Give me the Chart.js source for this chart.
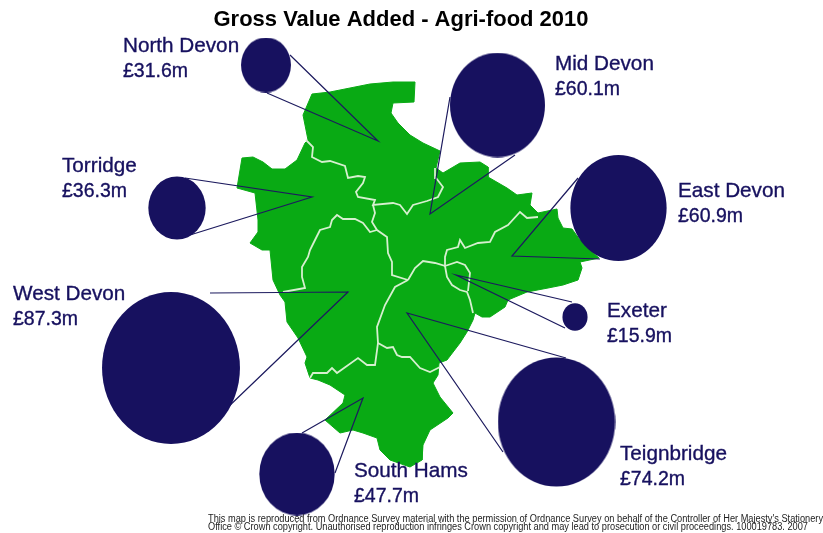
<!DOCTYPE html>
<html>
<head>
<meta charset="utf-8">
<title>Gross Value Added - Agri-food 2010</title>
<script src="https://cdn.jsdelivr.net/npm/chart.js@4"></script>
<style>
  html, body { margin: 0; background: #fff; }
  canvas { display: block; }
</style>
</head>
<body>
<canvas id="map" width="823" height="533"></canvas>
<script>
// values in GBP millions
const districts = ["North Devon", "Mid Devon", "East Devon", "Torridge", "West Devon", "Exeter", "Teignbridge", "South Hams"];
const gva = [31.6, 60.1, 60.9, 36.3, 87.3, 15.9, 74.2, 47.7];

// bubble centres, in map units
const bubbleX = [266, 497.5, 618.5, 177, 171, 575, 556.5, 297];
const bubbleY = [65, 105, 208, 208, 368, 317, 422, 474];

// where each label sits
const labelX = [123, 555, 678, 62, 13, 607, 620, 354];
const labelY = [52, 70, 197, 172, 300, 317, 460, 477];

// leader lines: bubble edge -> point in the district -> bubble edge
const leaderLines = [
  [[290, 55], [378, 141], [267, 93]],
  [[450, 97], [430, 214], [515, 155]],
  [[578, 178], [512, 256], [600, 259]],
  [[185, 178], [312, 197], [190, 235]],
  [[210, 293], [348, 292], [225, 410]],
  [[572, 302], [456, 275], [565, 328]],
  [[566, 358], [407, 313], [503, 452]],
  [[302, 433], [363, 398], [335, 473]]
];

const devonOutline = [
  [312,94],[330,92],[350,88],[370,84],[393,82],[415,82],[414,102],[393,103],[391,113],[398,123],
  [410,135],[423,143],[440,151],[436,168],[443,173],[460,163],[480,162],[488,167],[488,177],[507,188],
  [517,195],[532,193],[530,205],[538,213],[557,209],[558,218],[563,228],[572,229],[580,240],[590,250],
  [599,258],[580,262],[582,268],[578,280],[563,285],[548,288],[527,292],[508,300],[505,307],[490,317],
  [482,317],[475,313],[473,320],[467,332],[460,343],[447,360],[439,363],[438,375],[433,383],[440,397],
  [453,413],[448,418],[430,430],[423,445],[422,460],[410,467],[390,460],[380,450],[377,438],[363,433],
  [353,430],[340,433],[325,420],[343,403],[345,395],[330,385],[318,380],[310,378],[305,363],[307,357],
  [298,338],[287,322],[285,302],[280,295],[273,280],[270,250],[262,250],[250,243],[258,232],[258,220],
  [255,193],[237,188],[242,158],[253,157],[263,162],[272,169],[285,169],[297,160],[305,143],[308,140],
  [303,115]
];

const districtBorders = [
  // North Devon edge
  [[306,140],[313,147],[312,157],[322,162],[330,161],[345,166],[348,178],[358,176],[365,177],[363,183],
   [356,192],[358,197],[375,200],[373,205],[393,203],[400,205],[407,214],[413,205],[427,201],[438,197],
   [443,187],[436,178],[435,168]],
  // Torridge / Mid Devon / West Devon
  [[373,205],[375,213],[372,222],[377,230],[387,237],[388,253],[392,262],[392,275],[408,280]],
  // Torridge / West Devon
  [[377,230],[370,232],[363,223],[355,219],[343,219],[337,215],[332,220],[330,227],[320,230],[315,240],
   [310,250],[308,257],[302,267],[302,277],[305,288],[283,292]],
  // West Devon / Teignbridge / South Hams
  [[408,280],[395,287],[385,305],[377,327],[378,343],[375,365],[367,365],[358,358],[337,373],[332,368],
   [327,373],[313,373],[310,378]],
  // Teignbridge / South Hams
  [[378,343],[387,348],[393,347],[397,355],[402,357],[410,357],[420,368],[430,372],[440,367]],
  // Mid Devon / Teignbridge
  [[408,280],[415,268],[423,261],[435,263],[445,266],[447,277],[452,285],[460,290],[467,292],[470,300],[473,313]],
  // Exeter
  [[445,266],[457,262],[465,265],[470,273],[468,291]],
  // Mid Devon / East Devon
  [[445,267],[445,257],[447,250],[458,247],[460,240],[465,248],[478,243],[490,242],[495,232],[508,225],
   [520,212],[527,218],[538,217]]
];

const chartTitle = "Gross Value Added - Agri-food 2010";
const footnote = [
  "This map is reproduced from Ordnance Survey material with the permission of Ordnance Survey on behalf of the Controller of Her Majesty's Stationery",
  "Office \u00A9 Crown copyright. Unauthorised reproduction infringes Crown copyright and may lead to prosecution or civil proceedings. 100019783. 2007"
];

const NAVY = "#17115f";
const GREEN = "#09aa14";
const BORDER = "#d6f0cf";

// the source picture is stretched a bit, so bubbles are ellipses
function ellipseFor(value) {
  const rx = value * 0.79, ry = value * 0.87;
  const c = document.createElement("canvas");
  c.width = Math.ceil(rx * 2);
  c.height = Math.ceil(ry * 2);
  const g = c.getContext("2d");
  g.fillStyle = NAVY;
  g.beginPath();
  g.ellipse(c.width / 2, c.height / 2, rx, ry, 0, 0, Math.PI * 2);
  g.fill();
  return c;
}

function toPoints(list) {
  return list.map(p => ({ x: p[0], y: p[1] }));
}

const textPlugin = {
  id: "mapText",
  afterDatasetsDraw(chart) {
    const ctx = chart.ctx, sx = chart.scales.x, sy = chart.scales.y;
    ctx.save();
    ctx.textBaseline = "alphabetic";

    ctx.fillStyle = "#000";
    ctx.font = "bold 22px 'Liberation Sans'";
    ctx.textAlign = "center";
    ctx.fillText(chartTitle, sx.getPixelForValue(401), sy.getPixelForValue(26), 375);

    ctx.textAlign = "left";
    ctx.fillStyle = NAVY;
    ctx.strokeStyle = NAVY;
    ctx.lineWidth = 0.35;
    districts.forEach((name, i) => {
      const x = sx.getPixelForValue(labelX[i]);
      ctx.font = "20.7px 'Liberation Sans'";
      ctx.fillText(name, x, sy.getPixelForValue(labelY[i]));
      ctx.strokeText(name, x, sy.getPixelForValue(labelY[i]));
      const money = "\u00A3" + gva[i].toFixed(1) + "m";
      ctx.font = "19.5px 'Liberation Sans'";
      ctx.fillText(money, x, sy.getPixelForValue(labelY[i] + 25));
      ctx.strokeText(money, x, sy.getPixelForValue(labelY[i] + 25));
    });

    ctx.fillStyle = "#222";
    ctx.font = "10px 'Liberation Sans'";
    ctx.fillText(footnote[0], sx.getPixelForValue(208), sy.getPixelForValue(522), 615);
    ctx.fillText(footnote[1], sx.getPixelForValue(208), sy.getPixelForValue(530), 600);
    ctx.restore();
  }
};

const datasets = [];

datasets.push({
  type: "bubble",
  order: 0,
  data: districts.map((d, i) => ({ x: bubbleX[i], y: bubbleY[i], r: gva[i] * 0.8 })),
  pointStyle: c => ellipseFor(gva[c.dataIndex]),
  backgroundColor: NAVY,
  borderWidth: 0
});

leaderLines.forEach(l => datasets.push({
  type: "line", order: 1, data: toPoints(l),
  borderColor: "#1c1a5e", borderWidth: 1.2, pointRadius: 0, fill: false
}));

districtBorders.forEach(b => datasets.push({
  type: "line", order: 2, data: toPoints(b),
  borderColor: BORDER, borderWidth: 1.8, pointRadius: 0, fill: false
}));

datasets.push({
  type: "line", order: 3, data: toPoints(devonOutline.concat([devonOutline[0]])),
  borderColor: GREEN, borderWidth: 1, backgroundColor: GREEN, pointRadius: 0, fill: "shape"
});

new Chart(document.getElementById("map"), {
  data: { datasets: datasets },
  options: {
    responsive: false,
    animation: false,
    events: [],
    layout: { padding: 0, autoPadding: false },
    plugins: { legend: { display: false }, tooltip: { enabled: false }, title: { display: false } },
    scales: {
      x: { type: "linear", min: 0, max: 823, display: false },
      y: { type: "linear", min: 0, max: 533, reverse: true, display: false }
    }
  },
  plugins: [textPlugin]
});
</script>
</body>
</html>
